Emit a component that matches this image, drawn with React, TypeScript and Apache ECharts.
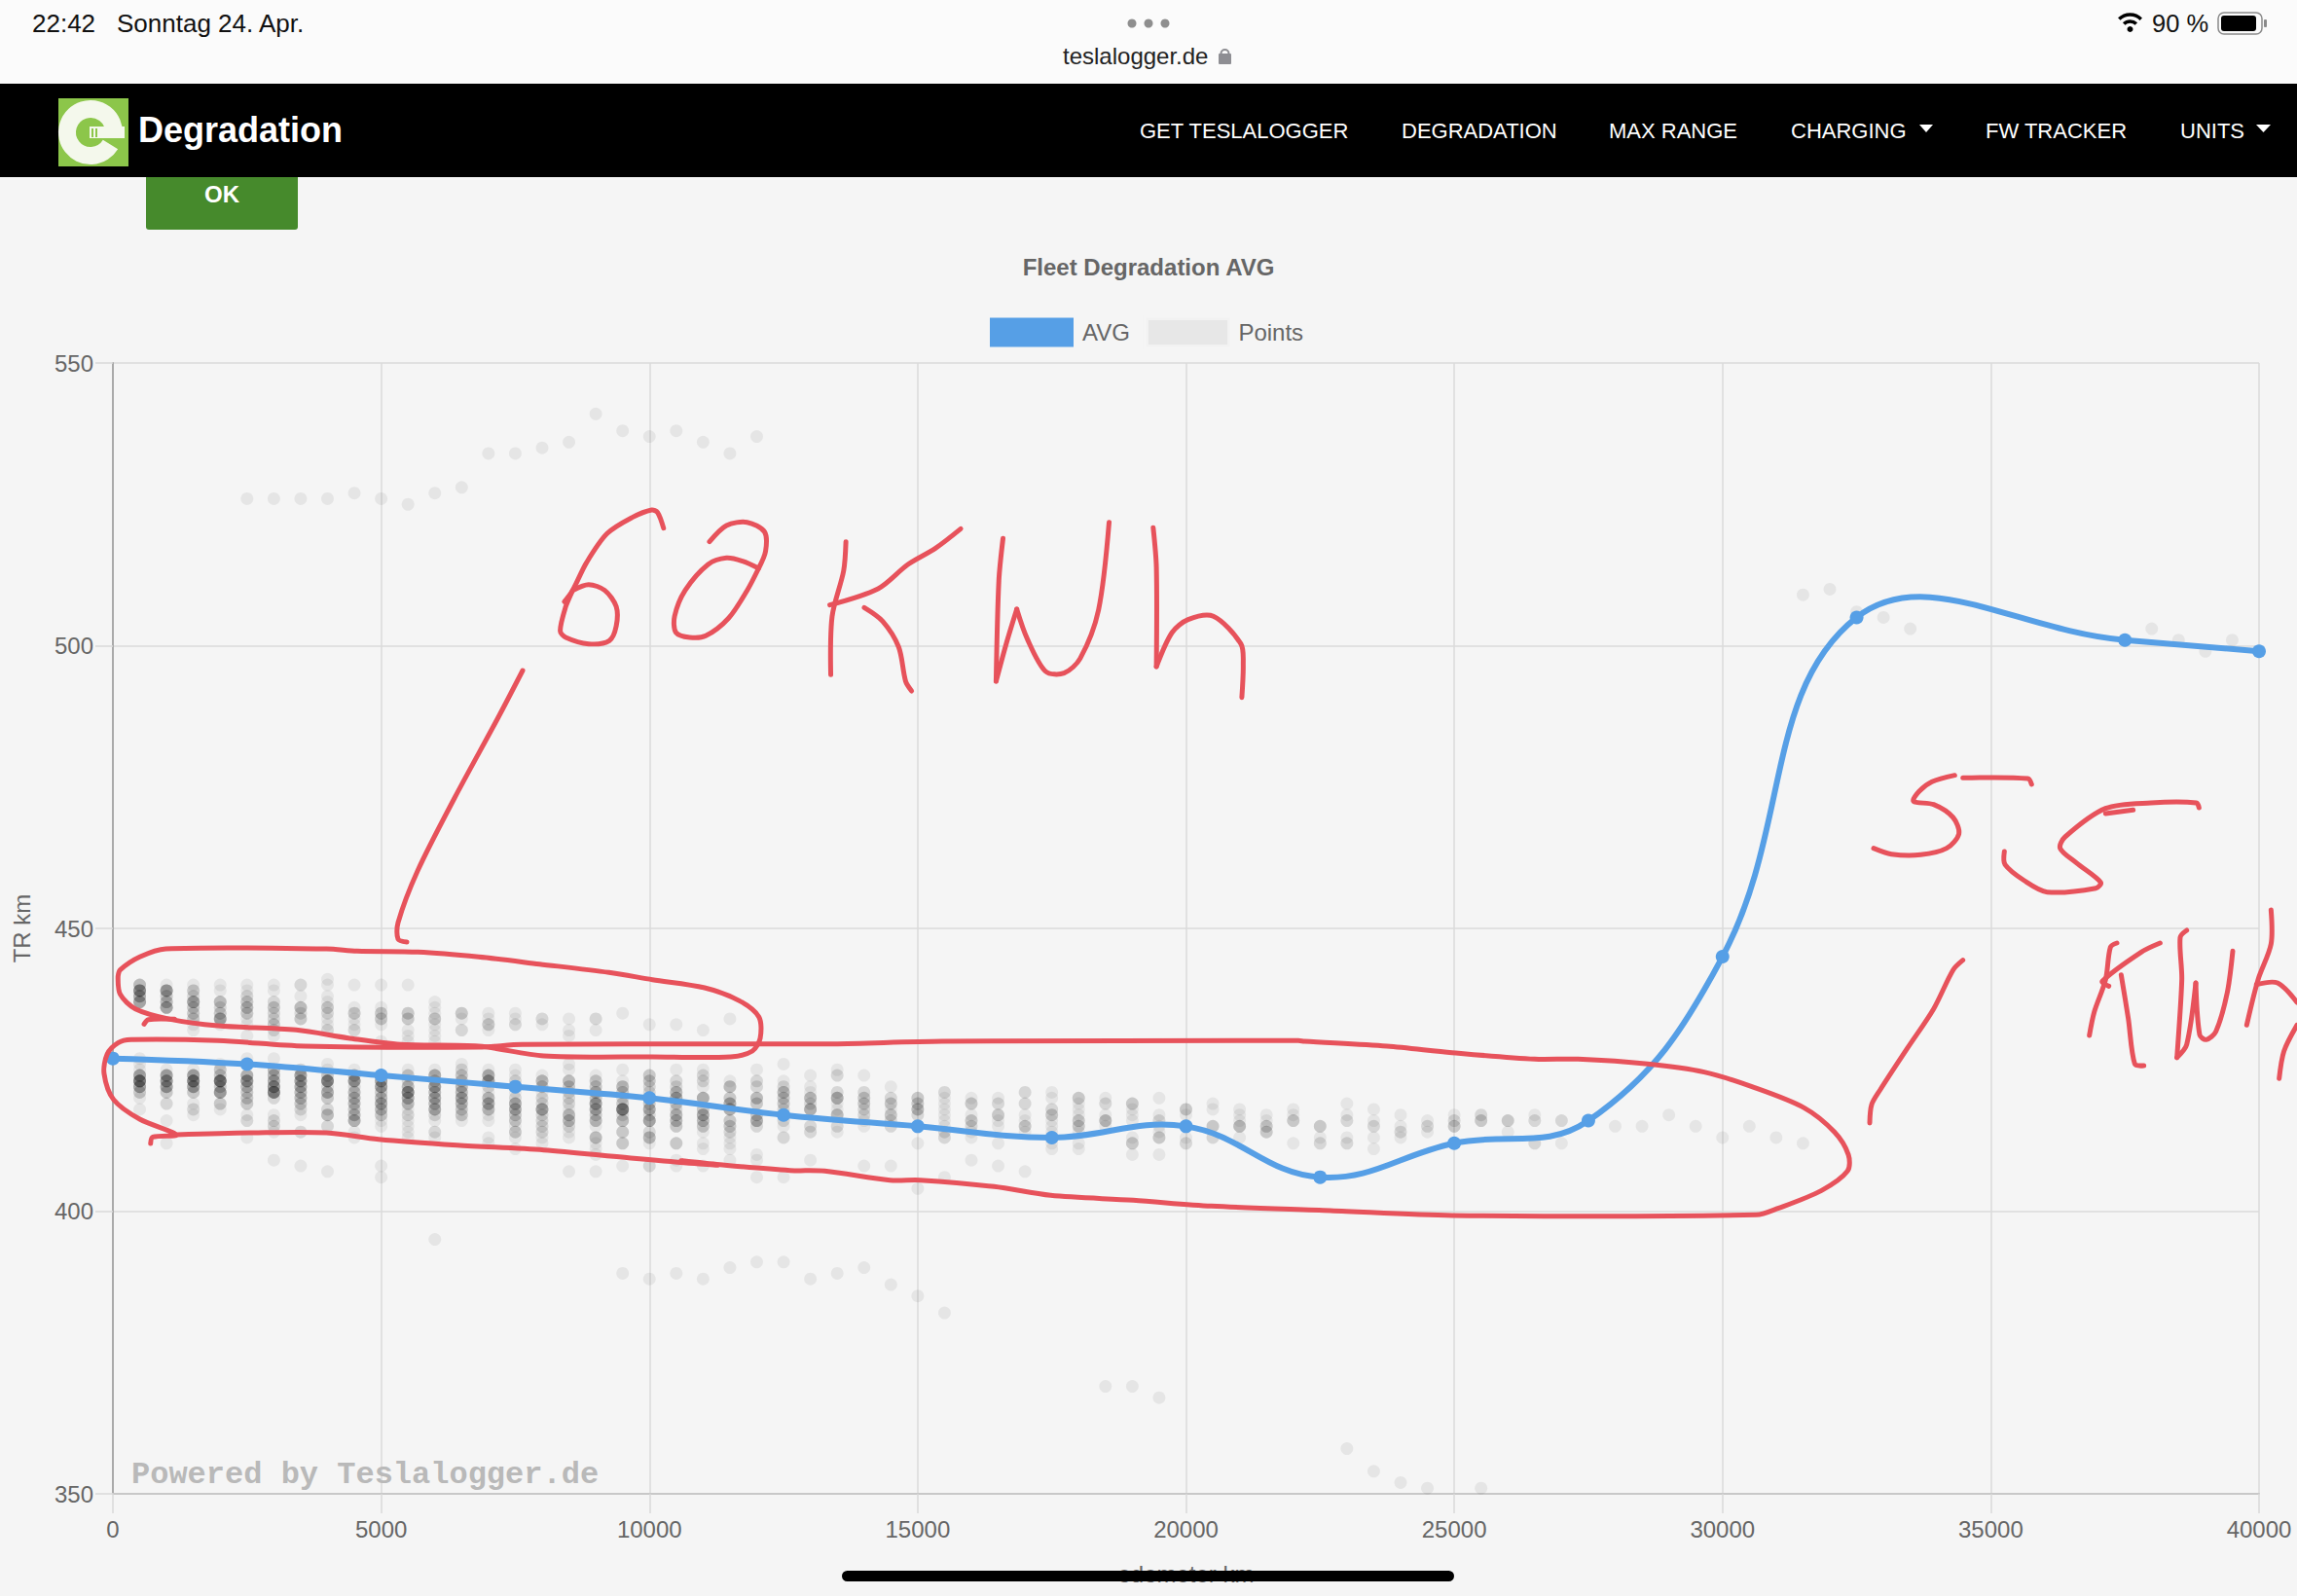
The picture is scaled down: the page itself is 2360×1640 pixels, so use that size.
import React, { useEffect, useRef } from "react";
import * as echarts from "echarts";

// ---- values ----
const avgOdometer = [0, 2500, 5000, 7500, 10000, 12500, 15000, 17500, 20000, 22500, 25000, 27500, 30000, 32500, 37500, 40000];
const avgRange = [427, 426, 424, 422, 420, 417, 415, 413, 415, 406, 412, 416, 445, 505, 501, 499];

// each row: odometer, then pairs of (TR km, number of cars)
const cluster60: number[][] = [
  [500, 440,4, 439,8, 438,5, 437,6],
  [1000, 440,1, 439,7, 438,3, 437,4, 436,6],
  [1500, 440,1, 439,3, 438,2, 437,6, 436,3, 435,3, 434,3, 433,1, 432,1],
  [2000, 440,1, 439,1, 437,4, 436,2, 435,3, 434,6, 433,1],
  [2500, 440,1, 439,1, 438,2, 437,3, 436,4, 435,3, 434,1, 433,1, 431,1],
  [3000, 440,1, 439,1, 437,2, 436,3, 435,2, 434,2, 433,3, 432,2, 431,1],
  [3500, 440,2, 438,1, 436,4, 435,2, 434,3],
  [4000, 441,1, 440,1, 438,1, 437,1, 436,3, 435,2, 434,1, 433,1, 432,2],
  [4500, 440,1, 436,1, 435,3, 434,1, 433,1, 432,2],
  [5000, 440,1, 436,1, 435,3, 434,3, 433,1, 430,1],
  [5500, 440,1, 435,3, 434,3, 432,1, 431,1, 430,1],
  [6000, 437,1, 436,1, 435,1, 434,3, 433,1, 432,1, 431,1, 430,1],
  [6500, 435,3, 434,1, 432,2],
  [7000, 435,1, 434,1, 433,3, 432,1],
  [7500, 435,1, 434,1, 433,2],
  [8000, 434,2, 433,1],
  [8500, 434,1, 432,1, 431,1],
  [9000, 434,2, 432,1],
  [9500, 435,1],
  [10000, 433,1],
  [10500, 433,1],
  [11000, 432,1],
  [11500, 434,1],
];

const cluster55: number[][] = [
  [500, 427,1, 426,1, 425,1, 424,6, 423,10, 422,6, 421,3, 420,1, 418,1],
  [1000, 425,1, 424,6, 423,7, 422,6, 421,3, 419,2, 416,1, 412,1],
  [1500, 425,1, 424,6, 423,9, 422,6, 421,3, 419,1, 418,2, 417,1],
  [2000, 426,1, 425,3, 424,3, 423,11, 422,3, 421,7, 419,3, 418,1],
  [2500, 427,1, 426,1, 424,5, 423,7, 422,4, 421,3, 420,3, 419,3, 417,1, 416,2, 413,1],
  [3000, 427,1, 425,4, 424,4, 423,5, 422,7, 421,9, 420,2, 417,1, 416,2, 415,2, 414,1, 409,1],
  [3500, 425,2, 424,6, 423,6, 422,5, 421,4, 420,4, 419,3, 418,2, 417,1, 414,2, 408,1],
  [4000, 426,1, 425,1, 424,3, 423,9, 422,2, 421,5, 420,3, 418,2, 417,4, 415,2, 407,1],
  [4500, 425,1, 424,4, 423,7, 422,2, 421,4, 420,4, 419,4, 418,3, 417,4, 416,5, 414,1, 413,1],
  [5000, 424,2, 423,6, 422,6, 421,3, 420,4, 419,5, 418,4, 417,3, 416,1, 415,1, 408,1, 406,1],
  [5500, 425,1, 424,3, 423,2, 422,4, 421,8, 420,5, 419,4, 418,1, 417,2, 416,1, 415,1, 414,1, 413,1],
  [6000, 425,1, 424,5, 423,3, 422,6, 421,4, 420,5, 419,4, 418,5, 417,2, 416,1, 414,2, 413,1],
  [6500, 426,1, 425,2, 424,3, 423,3, 422,4, 421,4, 420,5, 419,4, 418,3, 417,3, 416,1],
  [7000, 425,1, 424,5, 423,6, 422,2, 421,1, 420,4, 419,5, 418,4, 417,1, 416,1, 413,1, 412,1],
  [7500, 425,1, 424,1, 423,2, 422,2, 421,1, 420,2, 419,5, 418,5, 417,3, 416,3, 415,1, 414,3, 413,1, 411,1],
  [8000, 424,1, 423,4, 422,3, 421,1, 420,2, 419,2, 418,6, 417,2, 416,2, 415,2, 414,2, 413,1, 412,1],
  [8500, 426,1, 425,1, 423,4, 422,3, 421,2, 420,2, 419,2, 418,1, 417,4, 416,4, 415,2, 414,1, 413,1, 407,1],
  [9000, 424,1, 423,3, 422,3, 421,4, 420,3, 419,6, 418,5, 417,3, 416,4, 415,1, 413,4, 412,1, 411,1, 410,1, 407,1],
  [9500, 425,1, 423,1, 422,4, 421,3, 420,2, 419,3, 418,10, 417,2, 416,4, 414,3, 412,3, 408,1],
  [10000, 424,3, 423,3, 422,2, 421,2, 420,3, 419,3, 418,5, 417,2, 416,6, 414,2, 413,4, 412,1, 408,2],
  [10500, 425,1, 423,2, 422,2, 421,4, 420,5, 419,3, 418,2, 417,4, 416,4, 415,3, 412,3, 409,1, 408,1],
  [11000, 425,1, 424,2, 423,2, 422,1, 420,5, 418,3, 417,5, 416,4, 415,3, 414,1, 412,1, 411,1, 408,1],
  [11500, 423,1, 422,4, 420,3, 419,5, 418,5, 416,3, 415,3, 414,2, 413,1, 412,1, 411,1, 409,1],
  [12000, 425,1, 423,2, 422,2, 420,4, 419,3, 417,3, 416,5, 415,2, 410,1, 409,1, 406,1],
  [12500, 426,1, 423,1, 422,2, 421,4, 420,3, 419,3, 418,2, 417,3, 416,2, 415,1, 413,2, 406,1],
  [13000, 424,1, 422,1, 421,1, 420,4, 419,2, 418,5, 415,2, 414,2, 409,1],
  [13500, 425,1, 424,2, 421,2, 420,5, 419,1, 418,1, 417,4, 415,2, 414,1],
  [14000, 424,1, 421,2, 420,3, 419,3, 418,2, 417,2, 416,1, 415,1, 408,1],
  [14500, 422,1, 420,2, 419,3, 418,1, 417,3, 416,2, 415,2, 408,1],
  [15000, 420,3, 419,3, 418,4, 417,2, 412,1, 404,1],
  [15500, 421,2, 420,1, 419,1, 418,1, 417,1, 416,1, 415,1, 414,2, 413,2, 406,1],
  [16000, 420,1, 419,3, 417,1, 416,3, 415,2, 414,1, 413,1, 409,1],
  [16500, 420,1, 419,2, 417,3, 416,1, 415,1, 412,1, 408,1],
  [17000, 421,2, 419,2, 417,1, 416,1, 415,3, 414,1, 407,1],
  [17500, 421,1, 420,1, 418,2, 417,3, 416,1, 415,1, 414,1, 412,1, 411,1],
  [18000, 420,3, 419,1, 418,1, 417,1, 416,3, 415,3, 414,1, 412,1, 411,1],
  [18500, 420,1, 419,2, 417,1, 416,4, 415,1],
  [19000, 419,3, 418,1, 417,1, 416,1, 413,1, 412,3, 410,1],
  [19500, 420,1, 417,1, 416,2, 415,1, 414,1, 413,3, 410,1],
  [20000, 418,3, 417,1, 415,2, 413,1, 412,2],
  [20500, 419,1, 418,1, 415,3, 413,2],
  [21000, 418,1, 417,1, 416,1, 415,4, 413,1],
  [21500, 417,1, 416,1, 415,3, 414,3],
  [22000, 418,1, 417,1, 416,3, 412,1],
  [22500, 415,3, 413,1, 412,2],
  [23000, 419,1, 417,1, 416,2, 413,1, 412,2],
  [23500, 418,1, 416,1, 415,2, 413,1, 411,1],
  [24000, 417,1, 415,1, 414,2, 413,1],
  [24500, 416,1, 415,2, 414,1],
  [25000, 417,1, 416,2, 415,3],
  [25500, 417,2, 416,3],
  [26000, 416,3, 414,1],
  [26500, 417,1, 416,2, 412,2],
  [27000, 416,2, 412,1],
  [28000, 415,1],
  [28500, 415,1],
  [29000, 417,1],
  [29500, 415,1],
  [30000, 413,1],
  [30500, 415,1],
  [31000, 413,1],
  [31500, 412,1],
];

const outliers: number[][] = [
  [2500,526],[3000,526],[3500,526],[4000,526],[4500,527],[5000,526],[5500,525],[6000,527],[6500,528],[7000,534],
  [7500,534],[8000,535],[8500,536],[9000,541],[9500,538],[10000,537],[10500,538],[11000,536],[11500,534],[12000,537],
  [6000,395],[9500,389],[10000,388],[10500,389],[11000,388],[11500,390],[12000,391],[12500,391],[13000,388],[13500,389],
  [14000,390],[14500,387],[15000,385],[15500,382],[18500,369],[19000,369],[19500,367],
  [23000,358],[23500,354],[24000,352],[24500,351],[25500,351],
  [31500,509],[32000,510],[32500,506],[33000,505],[33500,503],[38000,503],[38500,501],[39000,499],[39500,501],
];

const xTickStep = 5000;
const yTicks = { min: 350, max: 550, step: 50 };
const navItems = ["GET TESLALOGGER", "DEGRADATION", "MAX RANGE", "CHARGING", "FW TRACKER", "UNITS"];

function expand(rows: number[][]): number[][] {
  const out: number[][] = [];
  for (const row of rows) {
    for (let i = 1; i < row.length; i += 2) {
      for (let n = 0; n < row[i + 1]; n++) out.push([row[0], row[i]]);
    }
  }
  return out;
}

// ---- page furniture and pen strokes (picture space) ----
const W = 2360, H = 1640;
const FONT = '"Liberation Sans", Arial, sans-serif';
const RED = "#e7525b";
const BLUE = "#569fe6";

const fromCrop = (ox: number, oy: number, sx: number, pts: number[][]) => pts.map(([x, y]) => [ox + x / sx, oy + y / 3]);
const a = (pts: number[][]) => fromCrop(560, 510, 2.119, pts);
const b = (pts: number[][]) => fromCrop(1900, 780, 3, pts);

const upperLoop = fromCrop(90, 960, 2.24, [
  [70,130],[75,110],[120,70],[180,45],[550,45],[620,52],[760,55],[900,70],[1040,92],[1200,118],[1300,140],[1420,165],[1500,205],
  [1545,255],[1548,320],[1530,360],[1480,378],[1300,378],[1050,375],[900,345],[720,340],[600,320],[480,295],[300,282],[190,262],
  [110,230],[75,185],[70,130],
]);
const upperTick = fromCrop(90, 960, 2.24, [[130,277],[140,263],[200,262]]);
const lowerLoop = [
  ...fromCrop(90, 960, 2.24, [[145,645],[150,625],[205,618],[120,570],[60,510],[38,430],[45,370],[70,335],[100,325],[300,328],[500,345],[900,348],[1000,340],[1500,338]]),
  ...fromCrop(700, 1040, 2.24, [[350,98],[600,90],[1420,88]]),
  ...fromCrop(1300, 1040, 2.24, [[90,90],[280,105],[430,125],[620,145],[720,145],[880,160],[1010,185],[1120,230],[1240,295],[1310,370],[1342,440],[1340,490],[1280,550],[1180,605],[1130,625],[430,627],[150,612]]),
  ...fromCrop(700, 1040, 2.24, [[1220,598],[1040,580],[850,565],[720,538],[550,518],[480,518],[330,490],[250,488],[100,472],[0,458]]),
  ...fromCrop(90, 960, 2.24, [[1450,712],[1250,690],[1050,665],[850,650],[670,632],[550,612],[380,612],[205,618]]),
];
const penStrokes: number[][][] = [
  upperLoop, upperTick, lowerLoop,
  // pointer to 60 kWh
  [[537,689],[512,737],[467,820],[429,895],[409,948],[409,965],[418,968]],
  // "6"
  a([[258,98],[245,50],[232,42],[190,65],[135,115],[90,205],[60,290],[42,325]]),
  a([[60,290],[95,272],[130,290],[155,340],[155,400],[140,445],[95,455],[45,435],[33,415],[45,340],[60,290]]),
  // second numeral
  a([[358,140],[395,90],[440,80],[478,110],[480,170],[465,222]]),
  a([[465,222],[430,200],[395,190],[355,210],[305,290],[282,370],[285,420],[315,435],[350,430],[400,375],[440,290],[465,222]]),
  // K W h
  a([[655,140],[650,230],[625,370],[622,550]]),
  a([[905,100],[850,160],[790,210],[725,285],[620,335]]),
  a([[695,343],[735,385],[770,465],[785,570],[798,600]]),
  a([[997,130],[988,260],[982,570]]),
  a([[982,570],[1005,450],[1027,348]]),
  a([[1027,348],[1050,440],[1090,540],[1130,545],[1165,500],[1205,350],[1228,80]]),
  a([[1324,97],[1331,220],[1331,525]]),
  a([[1331,525],[1365,420],[1400,380],[1455,370],[1515,455],[1520,520],[1517,620]]),
  // "5"
  b([[325,50],[255,70],[215,100],[198,130],[260,140],[320,180],[338,230],[300,275],[220,295],[130,293],[75,275]]),
  b([[350,58],[550,60],[562,78]]),
  // "5"
  b([[1078,150],[1070,135],[930,135],[790,152],[665,240],[650,275],[700,320],[775,380],[760,398],[610,410],[540,375],[480,325],[478,285]]),
  b([[790,168],[875,157]]),
  // pointer to 55 kWh
  [...b([[350,620],[320,650],[260,770],[180,890],[95,1020]]), [1923,1135],[1921,1154]],
  // K W h
  b([[825,567],[805,580],[790,680],[755,780],[740,852]]),
  b([[958,567],[900,595],[780,685],[800,700]]),
  b([[838,665],[860,800],[880,940],[908,945]]),
  b([[1040,528],[1020,550],[1025,680],[1010,920]]),
  b([[1010,920],[1040,880],[1068,690]]),
  b([[1068,690],[1080,850],[1100,865],[1130,840],[1165,720],[1182,592]]),
  b([[1300,465],[1300,570],[1260,680],[1225,820]]),
  b([[1255,695],[1320,690],[1380,750]]),
  b([[1380,820],[1340,900],[1325,985]]),
];

function txt(text: string, x: number, y: number, size: number, fill: string, extra: any = {}) {
  return {
    type: "text", z: 50,
    style: { text, x, y, fill, fontSize: size, fontFamily: FONT, verticalAlign: "middle", align: "left", ...extra },
  };
}

const navPositions = [1171, 1440, 1653, 1840, 2040, 2240];

function pageGraphics(): any[] {
  const els: any[] = [
    { type: "rect", z: 40, shape: { x: 0, y: 0, width: W, height: 86 }, style: { fill: "#fbfbfb" } },
    { type: "rect", z: 40, shape: { x: 0, y: 86, width: W, height: 96 }, style: { fill: "#000000" } },
    { type: "rect", z: 39, shape: { x: 150, y: 170, width: 156, height: 66, r: 3 }, style: { fill: "#468a2c" } },
    txt("OK", 228, 199, 24, "#ffffff", { fontWeight: "bold", align: "center" }),
    txt("22:42", 33, 24, 26, "#111111"),
    txt("Sonntag 24. Apr.", 120, 24, 26, "#111111"),
    txt("teslalogger.de", 1092, 57, 24, "#222222"),
    txt("90 %", 2211, 24, 25.5, "#111111"),
    txt("Degradation", 142, 133, 36, "#ffffff", { fontWeight: "bold" }),
    // logo
    { type: "rect", z: 41, shape: { x: 60, y: 101, width: 72, height: 70 }, style: { fill: "#8cc64a" } },
    { type: "arc", z: 42, shape: { cx: 93, cy: 136, r: 24, startAngle: 0.55, endAngle: 0.05, clockwise: true }, style: { fill: "none", stroke: "#f4f8ec", lineWidth: 18 } },
    { type: "rect", z: 42, shape: { x: 92, y: 130, width: 36, height: 12 }, style: { fill: "#f4f8ec" } },
    { type: "rect", z: 43, shape: { x: 86, y: 134, width: 2, height: 5 }, style: { fill: "#8cc64a" } },
    { type: "rect", z: 43, shape: { x: 90, y: 132, width: 2, height: 9 }, style: { fill: "#8cc64a" } },
    { type: "rect", z: 43, shape: { x: 94, y: 132, width: 2, height: 9 }, style: { fill: "#8cc64a" } },
    { type: "rect", z: 43, shape: { x: 98, y: 132, width: 2, height: 9 }, style: { fill: "#8cc64a" } },
    // safari dots and lock
    ...[1163, 1180, 1197].map((cx) => ({ type: "circle", z: 41, shape: { cx, cy: 24, r: 4.5 }, style: { fill: "#8e8e8e" } })),
    { type: "rect", z: 41, shape: { x: 1252, y: 55, width: 13, height: 11, r: 1 }, style: { fill: "#8e8e93" } },
    { type: "arc", z: 41, shape: { cx: 1258.5, cy: 55, r: 4, startAngle: Math.PI, endAngle: 0, clockwise: true }, style: { fill: "none", stroke: "#8e8e93", lineWidth: 2 } },
    // wifi
    { type: "circle", z: 41, shape: { cx: 2188.5, cy: 30, r: 3 }, style: { fill: "#000000" } },
    ...[9, 16].map((r) => ({ type: "arc", z: 41, shape: { cx: 2188.5, cy: 31, r, startAngle: -2.35, endAngle: -0.79, clockwise: true }, style: { fill: "none", stroke: "#000000", lineWidth: 3.5 } })),
    // battery
    { type: "rect", z: 41, shape: { x: 2279, y: 13, width: 45, height: 22, r: 6 }, style: { fill: "none", stroke: "#8a8a8a", lineWidth: 1.5 } },
    { type: "rect", z: 41, shape: { x: 2282, y: 16, width: 36, height: 16, r: 3 }, style: { fill: "#000000" } },
    { type: "rect", z: 41, shape: { x: 2326, y: 20, width: 3, height: 8, r: 1 }, style: { fill: "#8a8a8a" } },
    // dropdown carets
    { type: "polygon", z: 41, shape: { points: [[1972, 128], [1986, 128], [1979, 136]] }, style: { fill: "#ffffff" } },
    { type: "polygon", z: 41, shape: { points: [[2318, 128], [2333, 128], [2325.5, 136]] }, style: { fill: "#ffffff" } },
    // watermark
    { type: "text", z: 30, style: { text: "Powered by Teslalogger.de", x: 135, y: 1515, fill: "#b9b9b9", fontSize: 32, fontWeight: "bold", fontFamily: '"Liberation Mono", monospace', verticalAlign: "middle", align: "left" } },
    // home indicator
    { type: "rect", z: 60, shape: { x: 865, y: 1614, width: 629, height: 11, r: 5.5 }, style: { fill: "#000000" } },
  ];
  navItems.forEach((label, i) => els.push(txt(label, navPositions[i], 134, 22, "#ffffff")));
  penStrokes.forEach((points) =>
    els.push({ type: "polyline", z: 55, shape: { points, smooth: 0.3 }, style: { fill: "none", stroke: RED, lineWidth: 5, lineCap: "round", lineJoin: "round" } })
  );
  return els;
}

function renderAvg(params: any, api: any) {
  const i = params.dataIndex;
  const pt = (k: number) => api.coord([avgOdometer[k], avgRange[k]]);
  const n = avgOdometer.length;
  const cps = (k: number) => {
    const c = pt(k);
    if (k === 0 || k === n - 1) return { before: c, after: c };
    const p0 = pt(k - 1), p1 = pt(k + 1);
    const d0 = Math.hypot(c[0] - p0[0], c[1] - p0[1]);
    const d1 = Math.hypot(p1[0] - c[0], p1[1] - c[1]);
    const fa = (0.4 * d0) / (d0 + d1), fb = (0.4 * d1) / (d0 + d1);
    return {
      before: [c[0] - fa * (p1[0] - p0[0]), c[1] - fa * (p1[1] - p0[1])],
      after: [c[0] + fb * (p1[0] - p0[0]), c[1] + fb * (p1[1] - p0[1])],
    };
  };
  const p = pt(i);
  const children: any[] = [];
  if (i < n - 1) {
    const q = pt(i + 1);
    const c1 = cps(i).after, c2 = cps(i + 1).before;
    children.push({
      type: "bezierCurve",
      shape: { x1: p[0], y1: p[1], x2: q[0], y2: q[1], cpx1: c1[0], cpy1: c1[1], cpx2: c2[0], cpy2: c2[1] },
      style: { fill: "none", stroke: BLUE, lineWidth: 6 },
    });
  }
  children.push({ type: "circle", shape: { cx: p[0], cy: p[1], r: 7 }, style: { fill: BLUE } });
  return { type: "group", children };
}

export default function App() {
  const ref = useRef<HTMLDivElement>(null);
  useEffect(() => {
    document.body.style.margin = "0";
    const chart = echarts.init(ref.current!, undefined, { renderer: "svg" });
    const scatterStyle = { color: "rgba(0,0,0,0.08)" };
    chart.setOption({
      animation: false,
      backgroundColor: "#f5f5f5",
      textStyle: { fontFamily: FONT },
      title: {
        text: "Fleet Degradation AVG",
        left: "center",
        top: 262,
        padding: 0,
        textStyle: { color: "#666666", fontSize: 24, fontWeight: "bold", fontFamily: FONT },
      },
      legend: {
        left: 1017,
        top: 324,
        padding: 0,
        itemWidth: 86,
        itemHeight: 30,
        itemGap: 14,
        icon: "rect",
        selectedMode: false,
        textStyle: { color: "#666666", fontSize: 24, fontFamily: FONT, padding: [0, 0, 0, 4] },
        data: [
          { name: "AVG", itemStyle: { color: BLUE } },
          { name: "Points", itemStyle: { color: "#e3e3e3", borderColor: "#f5f5f5", borderWidth: 5 } },
        ],
      },
      grid: { left: 116, right: W - 2321, top: 373, bottom: H - 1535, containLabel: false, outerBoundsMode: "none" },
      xAxis: {
        type: "value",
        min: 0,
        max: 40000,
        interval: xTickStep,
        name: "odometer km",
        nameLocation: "middle",
        nameGap: 70,
        nameTextStyle: { color: "#666666", fontSize: 24, fontFamily: FONT },
        axisLine: { show: true, lineStyle: { color: "#c8c8c8", width: 2 } },
        axisTick: { show: true, length: 20, lineStyle: { color: "#d8d8d8", width: 1.5 } },
        axisLabel: { color: "#666666", fontSize: 24, margin: 24, fontFamily: FONT, formatter: (v: number) => String(v) },
        splitLine: { show: true, lineStyle: { color: "#dadada", width: 1.5 } },
      },
      yAxis: {
        type: "value",
        min: yTicks.min,
        max: yTicks.max,
        interval: yTicks.step,
        name: "TR km",
        nameLocation: "middle",
        nameRotate: 90,
        nameGap: 82,
        nameTextStyle: { color: "#666666", fontSize: 24, fontFamily: FONT },
        axisLine: { show: true, lineStyle: { color: "#aaaaaa", width: 2 } },
        axisTick: { show: true, length: 18, lineStyle: { color: "#d8d8d8", width: 1.5 } },
        axisLabel: { color: "#666666", fontSize: 24, margin: 20, fontFamily: FONT },
        splitLine: { show: true, lineStyle: { color: "#dadada", width: 1.5 } },
      },
      graphic: { elements: pageGraphics() },
      series: [
        {
          name: "Points",
          type: "scatter",
          symbolSize: 13,
          silent: true,
          z: 2,
          itemStyle: scatterStyle,
          data: [...expand(cluster60), ...expand(cluster55), ...outliers],
        },
        {
          name: "AVG",
          type: "custom",
          z: 5,
          silent: true,
          clip: false,
          itemStyle: { color: BLUE },
          encode: { x: 0, y: 1 },
          renderItem: renderAvg,
          data: avgOdometer.map((x, i) => [x, avgRange[i]]),
        },
      ],
    });
    return () => chart.dispose();
  }, []);
  return <div ref={ref} style={{ position: "fixed", left: 0, top: 0, width: W, height: H }} />;
}
